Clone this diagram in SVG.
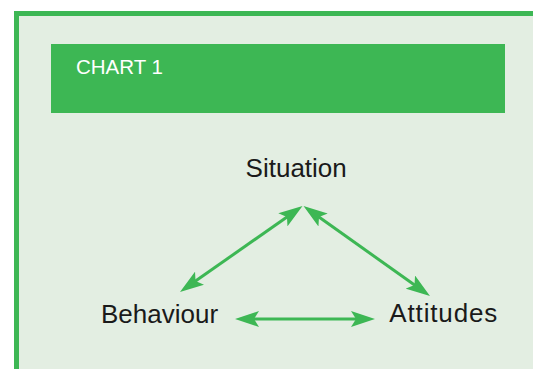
<svg xmlns="http://www.w3.org/2000/svg" width="533" height="369" viewBox="0 0 533 369">
  <style>
    .lbl { font-family: "Liberation Sans", Arial, sans-serif; font-size: 26px; fill: #1a1a1a; }
    .hdr { font-family: "Liberation Sans", Arial, sans-serif; font-size: 20.5px; fill: #ffffff; }
    .conn { stroke: #3db754; stroke-width: 3; fill: none; marker-start: url(#ah); marker-end: url(#ah); }
  </style>
  <defs>
    <marker id="ah" markerUnits="userSpaceOnUse" markerWidth="24" markerHeight="16" refX="12" refY="8" orient="auto-start-reverse" viewBox="0 0 24 16">
      <path d="M0,0 L24,8 L0,16 L5,8 z" fill="#3db754"/>
    </marker>
  </defs>
  <rect x="0" y="0" width="533" height="369" fill="#ffffff"/>
  <g id="frame">
    <rect x="14" y="11" width="519" height="358" fill="#3db754"/>
    <rect x="19" y="16" width="514" height="353" fill="#e3eee2"/>
  </g>
  <g id="header">
    <rect x="51" y="44" width="454" height="69" fill="#3db754"/>
    <text class="hdr" x="76" y="74">CHART 1</text>
  </g>
  <g id="connectors">
    <line class="conn" x1="292.7" y1="212.9" x2="189.8" y2="285.1"/>
    <line class="conn" x1="313.3" y1="213" x2="420.2" y2="289"/>
    <line class="conn" x1="247" y1="319" x2="363" y2="319"/>
  </g>
  <g id="situation">
    <text class="lbl" x="296.2" y="177" text-anchor="middle">Situation</text>
  </g>
  <g id="behaviour">
    <text class="lbl" x="101" y="323">Behaviour</text>
  </g>
  <g id="attitudes">
    <text class="lbl" x="389.3" y="322" textLength="108" lengthAdjust="spacing">Attitudes</text>
  </g>
</svg>
